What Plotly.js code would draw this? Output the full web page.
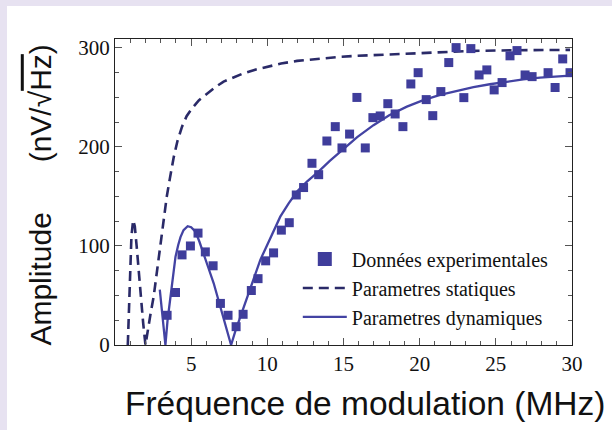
<!DOCTYPE html>
<html>
<head>
<meta charset="utf-8">
<script src="https://cdn.plot.ly/plotly-3.0.1.min.js"></script>
<style>
html,body{margin:0;padding:0;background:#e7e2f1;width:612px;height:430px;overflow:hidden;}
#plot{position:absolute;left:7px;top:6px;width:605px;height:424px;}
</style>
</head>
<body>
<div id="plot"></div>
<script>
// Experimental data (Données experimentales)
const expX = [3.42,3.97,4.40,4.95,5.45,5.93,6.44,6.92,7.42,7.95,8.41,8.95,9.39,9.89,10.41,10.92,11.44,11.90,12.38,12.93,13.37,13.91,14.46,14.90,15.40,15.88,16.43,16.93,17.41,17.91,18.39,18.90,19.42,19.90,20.43,20.86,21.39,21.91,22.39,22.90,23.36,23.90,24.41,24.89,25.41,25.93,26.39,26.92,27.38,28.43,28.89,29.39,29.87];
const expY = [30,53,91,100,113,94,80,42,30,18.5,31,55,67,85,93,116,123.5,151.5,159,183.5,172,206,220.5,199,213,250,199,229.6,231.3,243.7,233.3,220.5,263.6,275,247.8,231.6,255.9,285.2,300.3,249.8,299.3,272.7,277.8,257.6,265,292,297.3,272.7,271,275,260,288.9,275];

// Parametres statiques (dashed)
const statX = [0.84,0.92,1.0,1.08,1.19,1.3,1.42,1.55,1.7,1.85,2.0,2.15,2.35,2.54,2.75,3.0,3.2,3.4,3.6,3.86,4.1,4.4,4.7,5.06,5.5,6.05,6.6,7.13,7.8,8.45,9.2,9.98,10.9,11.95,12.8,13.7,14.8,15.9,17.5,19.2,21.3,23.5,26.5,29.87];
const statY = [0,40,80,110,126,120,100,75,48,22,0,15,33,49,75,103,126,150,168,190,206,220.5,231,239,247,254,260.5,266,270.5,274.4,278,281,284.2,286.9,288.2,289.6,291,292,293.2,294.4,295.8,297,297.7,298];

// Parametres dynamiques (solid)
const dynX = [2.94,3.12,3.31,3.45,3.64,3.8,3.97,4.15,4.3,4.5,4.77,5.0,5.28,5.55,5.82,6.15,6.48,6.8,7.13,7.4,7.62,7.9,8.23,8.55,8.89,9.2,9.54,9.87,10.2,10.5,10.85,11.4,11.95,12.6,13.36,14.1,14.9,15.9,16.97,18.0,19.16,20.2,21.34,22.4,23.53,24.6,25.72,26.8,27.9,29.87];
const dynY = [56,28,0,25,49,70,89,101,109,116,120,119,114.5,104,92.6,77,62.3,45,28.6,13,0,14,28.6,44,59,73,86,97,107.8,118,129.6,143,154.9,165,175,186,197,210,222,232,240.7,247,252.5,256.5,260.3,263.3,266,268.2,270,272];

const xTicks = [5,10,15,20,25,30];
const yTicks = [0,100,200,300];

const traces = [
  {x: dynX, y: dynY, mode:'lines', name:'Parametres dynamiques',
   line:{color:'#4343a3', width:2.3}},
  {x: statX, y: statY, mode:'lines', name:'Parametres statiques',
   line:{color:'#2a2a68', width:2.6, dash:'10px,6px'}},
  {x: expX, y: expY, mode:'markers', name:'Données experimentales', showlegend:false,
   marker:{symbol:'square', size:9, color:'#3f3d9b'}},
  {x: [null], y: [null], mode:'markers', name:'Données experimentales',
   marker:{symbol:'square', size:14, color:'#3f3d9b'}}
];

const axisCommon = {
  showgrid:false, zeroline:false, showline:true, linecolor:'#222', linewidth:1,
  mirror:'allticks', ticks:'inside', ticklen:7, tickwidth:1, tickcolor:'#555',
  tickfont:{family:'Liberation Serif, Times New Roman, serif', size:21, color:'#111'}
};

const layout = {
  width:605, height:424,
  margin:{l:108, r:40, t:33, b:85},
  paper_bgcolor:'#ffffff', plot_bgcolor:'#ffffff',
  showlegend:true,
  legend:{x:0.40, y:0.345, xanchor:'left', yanchor:'top', bgcolor:'rgba(0,0,0,0)',
          traceorder:'reversed', itemwidth:44, tracegroupgap:0,
          font:{family:'Liberation Serif, Times New Roman, serif', size:20, color:'#111'}},
  xaxis:Object.assign({}, axisCommon, {range:[0,30], tickvals:xTicks, ticktext:xTicks.map(String),
          minor:{dtick:1, ticks:'inside', ticklen:4, tickcolor:'#555'}}),
  yaxis:Object.assign({}, axisCommon, {range:[0,309], tickvals:yTicks, ticktext:yTicks.map(String),
          minor:{dtick:25, ticks:'inside', ticklen:4, tickcolor:'#555'}}),
  annotations:[
    {text:'Fréquence de modulation (MHz)', xref:'paper', yref:'paper', x:0.546, y:-0.19,
     xanchor:'center', yanchor:'middle', showarrow:false,
     font:{family:'Liberation Sans, Arial, sans-serif', size:33.5, color:'#111'}},
    {text:'Amplitude', xref:'paper', yref:'paper', x:-0.164, y:0.214, textangle:-90,
     xanchor:'center', yanchor:'middle', showarrow:false,
     font:{family:'Liberation Sans, Arial, sans-serif', size:30, color:'#111'}},
    {text:'(nV/√<span style="text-decoration:overline">Hz</span>)', xref:'paper', yref:'paper', x:-0.164, y:0.79, textangle:-90,
     xanchor:'center', yanchor:'middle', showarrow:false,
     font:{family:'Liberation Sans, Arial, sans-serif', size:30, color:'#111'}}
  ]
};

Plotly.newPlot('plot', traces, layout, {displayModeBar:false, staticPlot:true});
</script>
</body>
</html>
